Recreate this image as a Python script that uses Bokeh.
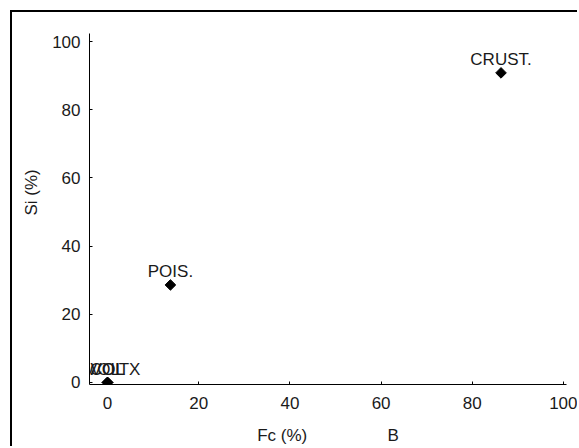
import math
from bokeh.plotting import figure
from bokeh.models import ColumnDataSource, Range1d, FixedTicker
from bokeh.embed import file_html
from bokeh.resources import INLINE
from bokeh.core.properties import value

# data
fc = [86.3, 13.8, 0.0, 0.0, 0.0]
si = [90.8, 28.6, 0.0, 0.0, 0.0]
names = ["CRUST.", "POIS.", "VOL", "COL", "PVOLTX"]
x_ticks = [0, 20, 40, 60, 80, 100]
y_ticks = [0, 20, 40, 60, 80, 100]

FONT = "Liberation Sans"

src = ColumnDataSource(dict(x=fc, y=si, name=names))

p = figure(width=567, height=436, output_backend="svg", toolbar_location=None,
           x_range=Range1d(-3.95, 100.66), y_range=Range1d(-0.6, 102.35),
           min_border_left=77, min_border_right=13, min_border_top=21, min_border_bottom=64)
p.styles = {"border-left": "2px solid black", "border-top": "2px solid black",
            "margin-left": "10px", "margin-top": "10px"}
p.outline_line_color = None
p.grid.visible = False
p.background_fill_color = "white"
p.border_fill_color = "white"

for ax in (p.xaxis[0], p.yaxis[0]):
    ax.major_tick_in = 3
    ax.major_tick_out = 0
    ax.minor_tick_line_color = None
    ax.axis_line_color = "black"
    ax.major_tick_line_color = "black"
    ax.major_label_text_font = FONT
    ax.major_label_text_font_size = "17px"
    ax.major_label_text_color = "#1a1a1a"
    ax.axis_label_text_font = FONT
    ax.axis_label_text_font_size = "17px"
    ax.axis_label_text_font_style = "normal"
    ax.axis_label_text_color = "#1a1a1a"

p.xaxis[0].ticker = FixedTicker(ticks=x_ticks)
p.yaxis[0].ticker = FixedTicker(ticks=y_ticks)
p.xaxis[0].axis_label = "Fc (%)" + "\u00a0" * 17 + "B"
p.yaxis[0].axis_label = "\u00a0" * 7 + "Si (%)"
p.xaxis[0].major_label_standoff = 12
p.yaxis[0].major_label_standoff = 9
p.xaxis[0].axis_label_standoff = 14
p.yaxis[0].axis_label_standoff = 8

p.scatter("x", "y", source=src, marker="square", size=7.5, angle=math.pi / 4,
          fill_color="black", line_color="black")
p.text("x", "y", text="name", source=src, text_align="center",
       text_baseline="alphabetic", y_offset=-13, text_font=value(FONT),
       text_font_size="17px", text_color="#1a1a1a")

open("out.html", "w").write(file_html(p, INLINE))
